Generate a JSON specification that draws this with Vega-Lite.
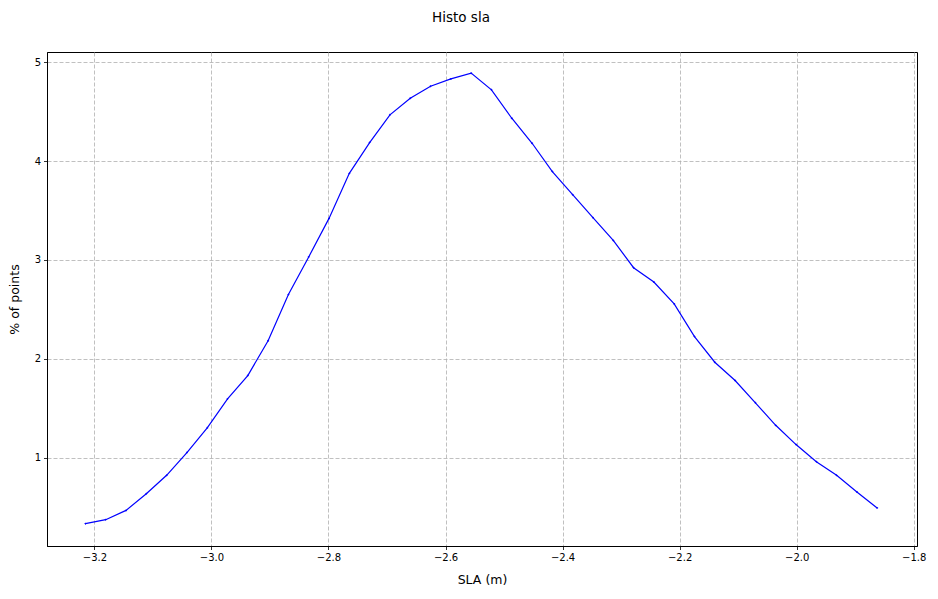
{
  "$schema": "https://vega.github.io/schema/vega-lite/v6.json",
  "width": 870,
  "height": 494,
  "autosize": {"type": "none"},
  "padding": {"left": 47, "top": 52, "right": 21, "bottom": 53},
  "title": {
    "text": "Histo sla",
    "font": "DejaVu Sans",
    "fontSize": 13.5,
    "fontWeight": "normal",
    "color": "black",
    "anchor": "middle",
    "frame": "group",
    "dx": -21,
    "offset": 28
  },
  "config": {
    "view": {"stroke": "black", "strokeWidth": 1},
    "axis": {
      "labelFont": "DejaVu Sans",
      "labelFontSize": 10,
      "labelColor": "black",
      "titleFont": "DejaVu Sans",
      "titleFontWeight": "normal",
      "titleColor": "black",
      "domainColor": "black",
      "domainWidth": 1,
      "tickColor": "black",
      "tickSize": 3.5,
      "tickWidth": 0.8,
      "labelPadding": 3,
      "gridColor": "#b0b0b0",
      "gridDash": [4, 2],
      "gridWidth": 0.8,
      "gridOpacity": 1
    }
  },
  "data": {
    "values": [
      {"sla": -3.2154, "pct": 0.332},
      {"sla": -3.1807, "pct": 0.372},
      {"sla": -3.1460, "pct": 0.466},
      {"sla": -3.1113, "pct": 0.635},
      {"sla": -3.0766, "pct": 0.821},
      {"sla": -3.0419, "pct": 1.051},
      {"sla": -3.0072, "pct": 1.301},
      {"sla": -2.9725, "pct": 1.594},
      {"sla": -2.9379, "pct": 1.830},
      {"sla": -2.9032, "pct": 2.182},
      {"sla": -2.8685, "pct": 2.651},
      {"sla": -2.8338, "pct": 3.030},
      {"sla": -2.7991, "pct": 3.420},
      {"sla": -2.7644, "pct": 3.876},
      {"sla": -2.7297, "pct": 4.187},
      {"sla": -2.6950, "pct": 4.467},
      {"sla": -2.6603, "pct": 4.635},
      {"sla": -2.6256, "pct": 4.757},
      {"sla": -2.5909, "pct": 4.831},
      {"sla": -2.5562, "pct": 4.889},
      {"sla": -2.5215, "pct": 4.720},
      {"sla": -2.4868, "pct": 4.433},
      {"sla": -2.4521, "pct": 4.180},
      {"sla": -2.4175, "pct": 3.893},
      {"sla": -2.3828, "pct": 3.660},
      {"sla": -2.3481, "pct": 3.427},
      {"sla": -2.3134, "pct": 3.197},
      {"sla": -2.2787, "pct": 2.921},
      {"sla": -2.2440, "pct": 2.776},
      {"sla": -2.2093, "pct": 2.555},
      {"sla": -2.1746, "pct": 2.224},
      {"sla": -2.1399, "pct": 1.965},
      {"sla": -2.1052, "pct": 1.780},
      {"sla": -2.0705, "pct": 1.554},
      {"sla": -2.0358, "pct": 1.327},
      {"sla": -2.0011, "pct": 1.132},
      {"sla": -1.9664, "pct": 0.959},
      {"sla": -1.9317, "pct": 0.821},
      {"sla": -1.8971, "pct": 0.653},
      {"sla": -1.8625, "pct": 0.491}
    ]
  },
  "encoding": {
    "x": {
      "field": "sla",
      "type": "quantitative",
      "scale": {"domain": [-3.281, -1.7944], "nice": false, "zero": false},
      "axis": {
        "title": "SLA (m)",
        "titleFontSize": 12.5,
        "titlePadding": 11,
        "values": [-3.2, -3.0, -2.8, -2.6, -2.4, -2.2, -2.0, -1.8],
        "format": ".1f",
        "labelFlush": false
      }
    },
    "y": {
      "field": "pct",
      "type": "quantitative",
      "scale": {"domain": [0.106, 5.103], "nice": false, "zero": false},
      "axis": {
        "title": "% of points",
        "titleFontSize": 12.5,
        "titlePadding": 13,
        "values": [1, 2, 3, 4, 5],
        "format": "d",
        "labelFlush": false
      }
    }
  },
  "layer": [
    {"mark": {"type": "line", "color": "#0000ff", "strokeWidth": 1.2}},
    {"mark": {"type": "point", "shape": "cross", "filled": true, "color": "#0000ff", "size": 4, "opacity": 1}}
  ]
}
